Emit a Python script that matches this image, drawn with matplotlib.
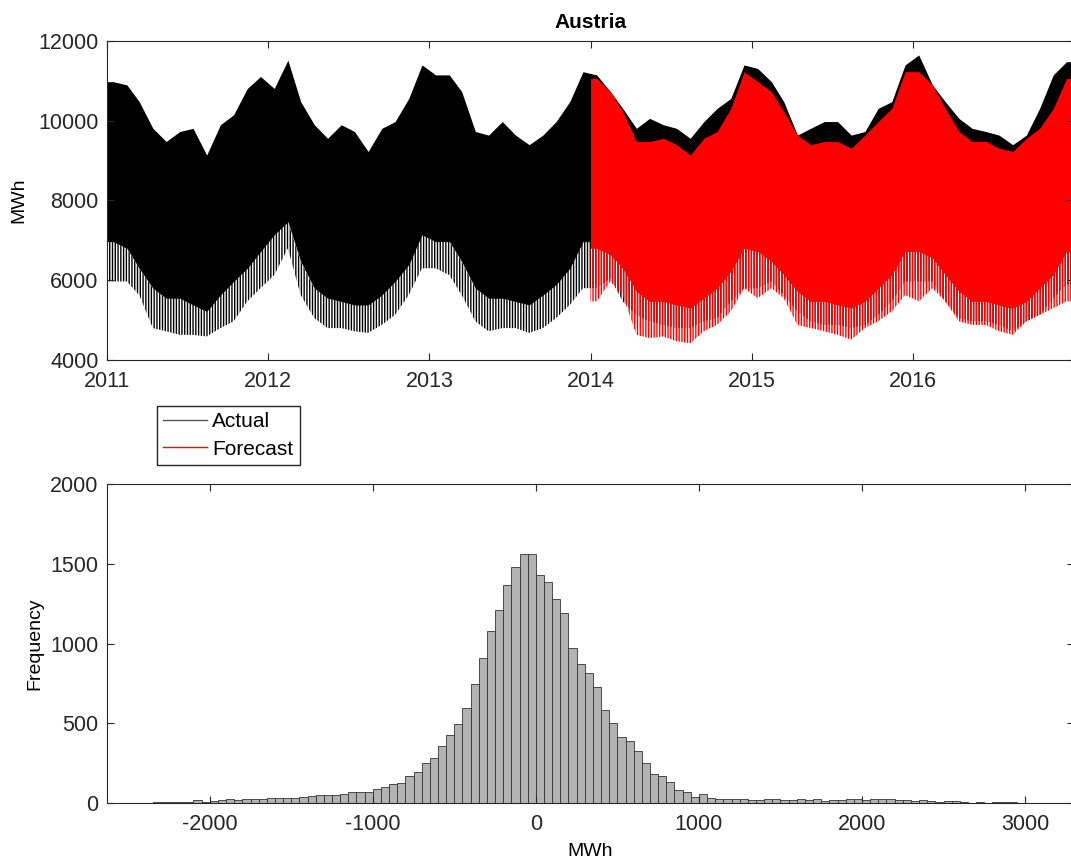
import matplotlib
matplotlib.use("Agg")
import matplotlib.dates as mdates
import matplotlib.pyplot as plt
import numpy as np
import pandas as pd
from matplotlib.lines import Line2D

plt.rcParams["font.family"] = ["Liberation Sans", "DejaVu Sans"]
plt.rcParams["axes.unicode_minus"] = False
plt.rcParams["hatch.linewidth"] = 1.0

# Hourly load envelope, read per month (mid-month), MWh
# top = highest peaks, core = lower edge of the dense band, bottom = deepest dips
actual_top = [
    10980, 10900, 10480, 9810, 9480, 9730, 9810, 9140, 9900, 10150, 10810, 11110,
    10810, 11520, 10480, 9900, 9560, 9900, 9730, 9230, 9810, 9980, 10560, 11400,
    11150, 11150, 10730, 9730, 9640, 9980, 9640, 9400, 9640, 9980, 10480, 11230,
    11150, 10730, 10310, 9810, 10060, 9900, 9810, 9560, 9980, 10310, 10560, 11400,
    11310, 10980, 10480, 9640, 9810, 9980, 9980, 9640, 9730, 10310, 10480, 11400,
    11650, 10900, 10480, 10060, 9810, 9730, 9640, 9400, 9640, 10310, 11150, 11480,
]
actual_core = [
    6970, 6800, 6300, 5800, 5550, 5550, 5380, 5220, 5630, 5970, 6300, 6720,
    7140, 7470, 6470, 5800, 5550, 5470, 5380, 5380, 5630, 5970, 6390, 7140,
    6970, 6970, 6470, 5800, 5550, 5550, 5470, 5380, 5630, 5890, 6300, 6970,
    6970, 6720, 6300, 5800, 5550, 5550, 5470, 5380, 5630, 5890, 6300, 6970,
    6800, 6640, 6300, 5800, 5550, 5550, 5470, 5300, 5550, 5890, 6220, 6800,
    6890, 6720, 6300, 5800, 5550, 5550, 5380, 5300, 5550, 5800, 6390, 6970,
]
actual_bottom = [
    5970, 5970, 5630, 4800, 4720, 4630, 4630, 4590, 4800, 4970, 5470, 5800,
    6130, 6800, 5630, 5050, 4800, 4800, 4720, 4680, 4880, 5130, 5630, 6300,
    6300, 6130, 5630, 4970, 4720, 4800, 4800, 4680, 4800, 5050, 5380, 5800,
    5800, 6050, 5470, 5130, 4970, 4880, 4800, 4800, 4970, 5050, 5470, 5800,
    5800, 5970, 5630, 5220, 4970, 4880, 4880, 4800, 4880, 5130, 5470, 5970,
    5970, 5970, 5470, 5050, 4970, 4970, 4880, 4720, 4970, 5130, 5550, 5890,
]
forecast_top = [
    11060, 10730, 10230, 9480, 9480, 9560, 9400, 9140, 9560, 9730, 10310, 11230,
    10980, 10730, 10230, 9640, 9400, 9480, 9480, 9310, 9640, 9980, 10310, 11230,
    11230, 10900, 10310, 9730, 9480, 9480, 9310, 9230, 9560, 9810, 10310, 11060,
]
forecast_core = [
    6800, 6640, 6300, 5720, 5470, 5470, 5380, 5300, 5550, 5800, 6220, 6800,
    6720, 6470, 6140, 5720, 5470, 5470, 5380, 5300, 5470, 5800, 6140, 6720,
    6720, 6560, 6140, 5720, 5470, 5470, 5380, 5300, 5470, 5800, 6140, 6720,
]
forecast_bottom = [
    5470, 5970, 5630, 4630, 4550, 4590, 4470, 4420, 4720, 4880, 5220, 5800,
    5550, 5800, 5550, 4880, 4800, 4720, 4630, 4510, 4800, 4970, 5220, 5630,
    5470, 5800, 5470, 4970, 4880, 4880, 4720, 4630, 4970, 5130, 5300, 5470,
]

# Forecast error histogram, 50 MWh bins starting at -2350
err_bin_start = -2350
err_bin_width = 50
err_counts = [
    4, 4, 6, 8, 6, 19, 6, 13, 19, 23, 17, 27, 25, 25, 31, 31, 29, 31, 36, 44,
    50, 48, 48, 54, 67, 67, 71, 86, 98, 117, 123, 169, 194, 251, 282, 355, 428, 497, 593, 744,
    907, 1078, 1208, 1369, 1482, 1561, 1561, 1428, 1386, 1277, 1189, 974, 869, 813, 729, 583,
    500, 416, 389, 324, 249, 180, 167, 134, 80, 71, 40, 54, 29,
    23, 23, 23, 23, 19, 17, 25, 23, 17, 17, 23, 17, 23, 13, 19, 19, 23, 23,
    17, 23, 23, 23, 19, 19, 13, 17, 13, 6, 13, 13, 4, 0, 4, 0, 4, 4, 4, 0,
]

actual_months = pd.date_range("2011-01-01", periods=len(actual_top), freq="MS")
forecast_months = pd.date_range("2014-01-01", periods=len(forecast_top), freq="MS")


def padded(months, *series):
    # readings sit mid-month; stretch first/last one to the record's start/end
    start = mdates.date2num(months[0])
    end = mdates.date2num(months[-1] + pd.offsets.MonthBegin(1))
    mid = mdates.date2num(months + pd.Timedelta(days=14))
    x = np.concatenate([[start], mid, [end]])
    out = [np.concatenate([[s[0]], s, [s[-1]]]) for s in series]
    return x, out


def draw_band(ax, months, top, core, bottom, color):
    x, (top, core, bottom) = padded(months, top, core, bottom)
    ax.fill_between(x, core, top, color=color, linewidth=0)
    with plt.rc_context({"hatch.color": color}):
        ax.fill_between(x, bottom, core, facecolor="none", edgecolor=color,
                        hatch="||||||", linewidth=0)


fig = plt.figure(figsize=(10.71, 8.67), dpi=100)
ax1 = fig.add_axes([107 / 1071, 1 - 360 / 867, 967 / 1071, 319 / 867])
ax2 = fig.add_axes([107 / 1071, 1 - 803 / 867, 967 / 1071, 319 / 867])

draw_band(ax1, actual_months, actual_top, actual_core, actual_bottom, "black")
draw_band(ax1, forecast_months, forecast_top, forecast_core, forecast_bottom, "red")

ax1.set_xlim(mdates.date2num(pd.Timestamp("2011-01-01")), mdates.date2num(pd.Timestamp("2017-01-01")))
ax1.set_ylim(4000, 12000)
ax1.set_yticks(np.arange(4000, 12001, 2000))
years = pd.date_range("2011-01-01", "2016-01-01", freq="YS")
ax1.set_xticks(mdates.date2num(years))
ax1.set_xticklabels([str(y.year) for y in years])
ax1.set_ylabel("MWh", fontsize=14, labelpad=8)
ax1.set_title("Austria", fontweight="bold", fontsize=15, pad=9)

edges = err_bin_start + err_bin_width * np.arange(len(err_counts) + 1)
ax2.bar(edges[:-1], err_counts, width=err_bin_width, align="edge",
        color=(0.7, 0.7, 0.7), edgecolor=(0.2, 0.2, 0.2), linewidth=0.6)
ax2.set_xlim(-2630, 3300)
ax2.set_ylim(0, 2000)
ax2.set_xticks(np.arange(-2000, 3001, 1000))
ax2.set_yticks(np.arange(0, 2001, 500))
ax2.set_xlabel("MWh", fontsize=14, labelpad=6)
ax2.set_ylabel("Frequency", fontsize=14, labelpad=5)

for ax in (ax1, ax2):
    ax.tick_params(direction="in", top=True, right=True, length=5, width=0.8,
                   labelsize=15.5, colors="#262626")
    ax.tick_params(axis="x", pad=8)
    ax.tick_params(axis="y", pad=6)
    for sp in ax.spines.values():
        sp.set_color("#262626")
        sp.set_linewidth(0.8)

handles = [Line2D([], [], color="#555555", lw=1.0), Line2D([], [], color="red", lw=1.0)]
fig.legend(handles, ["Actual", "Forecast"], loc="upper left",
           bbox_to_anchor=(157 / 1071, 1 - 406 / 867), fontsize=15,
           fancybox=False, edgecolor="#262626", framealpha=1,
           handlelength=2.1, handletextpad=0.25, borderpad=0.3, labelspacing=0.4,
           borderaxespad=0)

fig.savefig("out.png", dpi=100)
